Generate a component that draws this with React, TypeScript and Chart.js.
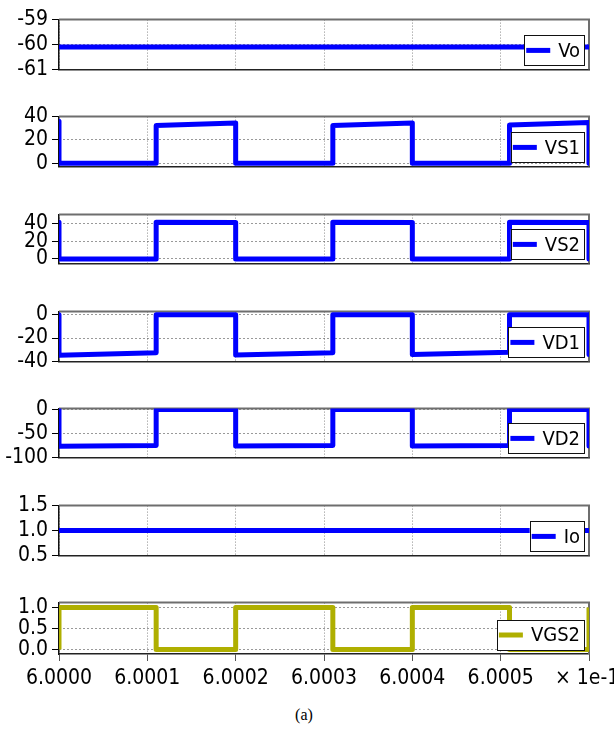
import React, { useEffect, useRef } from 'react';
import { Chart, registerables } from 'chart.js';

Chart.register(...registerables);

const FONT_FAMILY = "'DejaVu Sans Condensed', 'DejaVu Sans', sans-serif";
const FONT_SIZE = 21;
const LEGEND_FONT_SIZE = 20;

// ---- data (time axis in units shown on the axis, × 1e-1 s) ----
const xTicks = [6.0, 6.0001, 6.0002, 6.0003, 6.0004, 6.0005, 6.0006];
const xExponentLabel = '× 1e-1';
const caption = '(a)';

const seriesNames = ['Vo', 'VS1', 'VS2', 'VD1', 'VD2', 'Io', 'VGS2'];

const voT = [6.0, 6.0006];
const voV = [-60.1, -60.1];

const vs1T = [6.0, 6.0, 6.00011, 6.00011, 6.0002, 6.0002, 6.00031, 6.00031, 6.0004, 6.0004, 6.00051, 6.00051, 6.0006, 6.0006];
const vs1V = [36, 0, 0, 32.4, 34.5, 0, 0, 32.4, 34.5, 0, 0, 32.8, 35, 0];

const vs2T = [6.0, 6.0, 6.00011, 6.00011, 6.0002, 6.0002, 6.00031, 6.00031, 6.0004, 6.0004, 6.00051, 6.00051, 6.0006, 6.0006];
const vs2V = [41.5, 0, 0, 41.3, 41, 0, 0, 41.3, 41, 0, 0, 41.3, 41, 0];

const vd1T = [6.0, 6.0, 6.00011, 6.00011, 6.0002, 6.0002, 6.00031, 6.00031, 6.0004, 6.0004, 6.00051, 6.00051, 6.0006, 6.0006];
const vd1V = [0, -34.7, -32.6, 0, 0, -34.5, -32.5, 0, 0, -34.2, -32.2, 0, 0, -34];

const vd2T = [6.0, 6.0, 6.00011, 6.00011, 6.0002, 6.0002, 6.00031, 6.00031, 6.0004, 6.0004, 6.00051, 6.00051, 6.0006, 6.0006];
const vd2V = [0, -76.5, -75, 0, 0, -76, -75, 0, 0, -76, -75, 0, 0, -76];

const ioT = [6.0, 6.0006];
const ioV = [1.0, 1.0];

const vgs2T = [6.0, 6.0, 6.00011, 6.00011, 6.0002, 6.0002, 6.00031, 6.00031, 6.0004, 6.0004, 6.00051, 6.00051, 6.0006, 6.0006];
const vgs2V = [0, 1, 1, 0, 0, 1, 1, 0, 0, 1, 1, 0, 0, 1];

const yTicksVo = [-61, -60, -59];
const yTicksVS1 = [0, 20, 40];
const yTicksVS2 = [0, 20, 40];
const yTicksVD1 = [-40, -20, 0];
const yTicksVD2 = [-100, -50, 0];
const yTicksIo = [0.5, 1.0, 1.5];
const yTicksVGS2 = [0.0, 0.5, 1.0];

const yRangeVo = [-61, -59];
const yRangeVS1 = [-2.6, 40];
const yRangeVS2 = [-5, 50];
const yRangeVD1 = [-40, 2.6];
const yRangeVD2 = [-100, 2];
const yRangeIo = [0.5, 1.5];
const yRangeVGS2 = [-0.11, 1.12];

const yDecimals = [0, 0, 0, 0, 0, 1, 1];

// ---- layout / style ----
const BLUE = '#0000ff';
const OLIVE = '#afaf00';
const panelColors = [BLUE, BLUE, BLUE, BLUE, BLUE, BLUE, OLIVE];
const panelTops = [17.7, 114.3, 212, 309, 406.7, 503.3, 600.7];
const panelBottoms = [71.3, 168.3, 266, 363.3, 459.3, 557.3, 654];
const PLOT_LEFT = 59;
const PLOT_RIGHT = 589;
const WIDTH = 614;
const LAST_CANVAS_BOTTOM = 705;

type PanelDef = {
  name: string;
  t: number[];
  v: number[];
  ticks: number[];
  range: number[];
  decimals: number;
  color: string;
  top: number;
  bottom: number;
  last: boolean;
};

const tList = [voT, vs1T, vs2T, vd1T, vd2T, ioT, vgs2T];
const vList = [voV, vs1V, vs2V, vd1V, vd2V, ioV, vgs2V];
const tickList = [yTicksVo, yTicksVS1, yTicksVS2, yTicksVD1, yTicksVD2, yTicksIo, yTicksVGS2];
const rangeList = [yRangeVo, yRangeVS1, yRangeVS2, yRangeVD1, yRangeVD2, yRangeIo, yRangeVGS2];

const panels: PanelDef[] = seriesNames.map((name, i) => ({
  name,
  t: tList[i],
  v: vList[i],
  ticks: tickList[i],
  range: rangeList[i],
  decimals: yDecimals[i],
  color: panelColors[i],
  top: panelTops[i],
  bottom: panelBottoms[i],
  last: i === seriesNames.length - 1,
}));

const font = { family: FONT_FAMILY, size: FONT_SIZE };

function Panel({ p }: { p: PanelDef }) {
  const ref = useRef<HTMLCanvasElement | null>(null);
  const canvasTop = Math.floor(p.top) - 14;
  const canvasBottom = p.last ? LAST_CANVAS_BOTTOM : Math.ceil(p.bottom) + 14;
  const h = canvasBottom - canvasTop;
  const padTop = p.top - canvasTop;
  const xAxisH = canvasBottom - p.bottom;

  useEffect(() => {
    if (!ref.current) return;
    const deco = {
      id: 'deco' + p.name,
      beforeDatasetsDraw(chart: any) {
        const { ctx, chartArea: a } = chart;
        ctx.save();
        ctx.strokeStyle = '#6e6e6e';
        ctx.lineWidth = 2;
        ctx.beginPath();
        ctx.moveTo(a.left, a.top);
        ctx.lineTo(a.right, a.top);
        ctx.lineTo(a.right, a.bottom);
        ctx.stroke();
        ctx.restore();
      },
      afterDatasetsDraw(chart: any) {
        const { ctx, chartArea: a } = chart;
        ctx.save();
        ctx.font = `${LEGEND_FONT_SIZE}px ${FONT_FAMILY}`;
        const tw = ctx.measureText(p.name).width;
        const bw = 2 + 24 + 8 + tw + 4;
        const bh = 30;
        const right = a.right - 5;
        const bottom = a.bottom - 4;
        const left = right - bw;
        const top = bottom - bh;
        ctx.fillStyle = '#fff';
        ctx.fillRect(left, top, bw, bh);
        ctx.strokeStyle = '#111';
        ctx.lineWidth = 1;
        ctx.strokeRect(Math.round(left) + 0.5, Math.round(top) + 0.5, Math.round(bw), Math.round(bh));
        const cy = top + bh / 2;
        ctx.strokeStyle = p.color;
        ctx.lineWidth = 5;
        ctx.beginPath();
        ctx.moveTo(left + 2, cy);
        ctx.lineTo(left + 26, cy);
        ctx.stroke();
        ctx.fillStyle = '#000';
        ctx.textBaseline = 'middle';
        ctx.textAlign = 'left';
        ctx.fillText(p.name, left + 34, cy + 1);
        ctx.restore();
      },
      afterDraw(chart: any) {
        if (!p.last) return;
        const { ctx, chartArea: a } = chart;
        ctx.save();
        ctx.font = `${FONT_SIZE}px ${FONT_FAMILY}`;
        ctx.fillStyle = '#000';
        ctx.textBaseline = 'middle';
        ctx.textAlign = 'left';
        ctx.fillText(xExponentLabel, 555, a.bottom + 7 + 5 + 12.6);
        ctx.restore();
      },
    };

    const chart = new Chart(ref.current, {
      type: 'line',
      data: {
        datasets: [
          {
            label: p.name,
            data: p.t.map((t, i) => ({ x: t, y: p.v[i] })),
            borderColor: p.color,
            backgroundColor: p.color,
            borderWidth: 5,
            pointRadius: 0,
            fill: false,
            tension: 0,
            borderJoinStyle: 'round',
            clip: 0,
          } as any,
        ],
      },
      options: {
        responsive: false,
        animation: false,
        devicePixelRatio: 1,
        events: [],
        layout: { padding: { left: 0, right: WIDTH - PLOT_RIGHT, top: padTop, bottom: 0 } },
        plugins: { legend: { display: false }, tooltip: { enabled: false } },
        scales: {
          x: {
            type: 'linear',
            min: xTicks[0],
            max: xTicks[xTicks.length - 1],
            afterBuildTicks: (s: any) => {
              s.ticks = xTicks.map((v) => ({ value: v }));
            },
            afterFit: (s: any) => {
              s.height = xAxisH;
            },
            grid: {
              color: '#8a8a8a',
              lineWidth: 1,
              drawTicks: p.last,
              tickLength: 7,
              tickColor: '#555',
              tickBorderDash: [],
            },
            border: { display: true, color: '#222', width: 1.5, dash: [1, 2] },
            ticks: {
              display: p.last,
              autoSkip: false,
              maxRotation: 0,
              padding: 5,
              font,
              color: '#000',
              callback: (v: any, i: number) => (i === xTicks.length - 1 ? '' : Number(v).toFixed(4)),
            },
          },
          y: {
            type: 'linear',
            min: p.range[0],
            max: p.range[1],
            afterBuildTicks: (s: any) => {
              s.ticks = p.ticks.map((v) => ({ value: v }));
            },
            afterFit: (s: any) => {
              s.width = PLOT_LEFT;
            },
            grid: {
              color: '#333',
              lineWidth: 1,
              drawTicks: true,
              tickLength: 7,
              tickColor: '#000',
              tickBorderDash: [],
            },
            border: { display: true, color: '#111', width: 1.5, dash: [1, 3] },
            ticks: {
              autoSkip: false,
              padding: 4,
              font,
              color: '#000',
              callback: (v: any) => Number(v).toFixed(p.decimals),
            },
          },
        },
      } as any,
      plugins: [deco],
    });
    return () => chart.destroy();
  }, []);

  return (
    <canvas
      ref={ref}
      width={WIDTH}
      height={h}
      style={{ position: 'absolute', left: 0, top: canvasTop, width: WIDTH, height: h }}
    />
  );
}

export default function App() {
  return (
    <div style={{ position: 'absolute', left: 0, top: 0, width: WIDTH, height: 733, background: '#fff', overflow: 'hidden' }}>
      {panels.map((p) => (
        <Panel key={p.name} p={p} />
      ))}
      <div
        style={{
          position: 'absolute',
          left: 0,
          width: 608,
          top: 706,
          textAlign: 'center',
          fontFamily: "'Liberation Serif', 'Times New Roman', serif",
          fontSize: 16,
          color: '#000',
        }}
      >
        {caption}
      </div>
    </div>
  );
}
